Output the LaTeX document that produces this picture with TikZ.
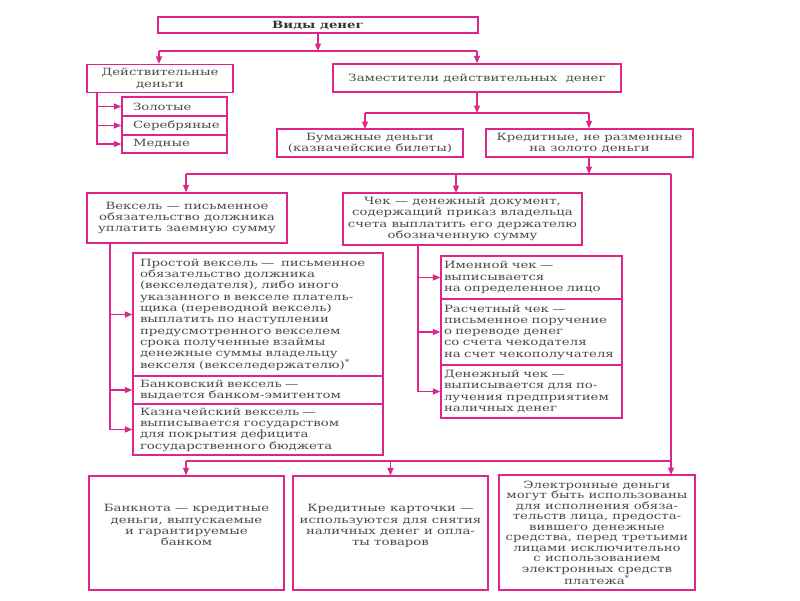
\documentclass[tikz,border=0pt]{standalone}
\usepackage{fontspec}
\setmainfont{DejaVu Serif}[FakeStretch=1.33]
\usetikzlibrary{arrows.meta}
\definecolor{mag}{RGB}{220,38,140}
\definecolor{txt}{RGB}{75,75,75}
\tikzset{
  box/.style={draw=mag, line width=1.3pt, inner sep=0pt, rectangle, text=txt,
    font=\fontsize{10}{11.3}\selectfont},
  txtnode/.style={inner sep=0pt, text=txt, font=\fontsize{10}{11.3}\selectfont, align=center},
  lt/.style={align=left},
  ct/.style={align=center},
  ln/.style={draw=mag, line width=1.3pt},
  arr/.style={draw=mag, line width=1.3pt, -{Triangle[length=7.5pt,width=6pt]}},
}
\begin{document}
\begin{tikzpicture}[x=1pt,y=-1pt]
\useasboundingbox[fill=white] (0,0) rectangle (800,600);
% top
\node[box, ct, minimum width=320pt, minimum height=16pt, text depth=0pt, font=\fontsize{10}{11.3}\selectfont\bfseries, text=black!80] (title) at (318,25) {Виды денег};
\node[box, ct, minimum width=146pt, minimum height=28pt] (deist) at (160,78.5) {Действительные\\деньги};
\node[box, ct, minimum width=288pt, minimum height=28pt, text depth=0pt] (zam) at (477,78) {Заместители действительных\ \ денег};
\node[box, lt, text width=83pt, minimum width=105pt, minimum height=19pt] (gold) at (174.5,106.5) {Золотые};
\node[box, lt, text width=83pt, minimum width=105pt, minimum height=19pt] (silver) at (174.5,125.5) {Серебряные};
\node[box, lt, text width=83pt, minimum width=105pt, minimum height=18pt] (copper) at (174.5,144) {Медные};
\node[box, ct, minimum width=186pt, minimum height=28pt] (bum) at (370,143) {Бумажные деньги\\(казначейские билеты)};
\node[box, ct, minimum width=207pt, minimum height=28pt] (kred) at (589.5,143) {Кредитные, не разменные\\на золото деньги};
% middle
\node[box, ct, minimum width=200pt, minimum height=50pt] (veks) at (187,218) {Вексель — письменное\\обязательство должника\\уплатить заемную сумму};
\node[box, ct, minimum width=239pt, minimum height=52pt] (chek) at (462.5,219) {Чек — денежный документ,\\содержащий приказ владельца\\счета выплатить его держателю\\обозначенную сумму};
\node[box, lt, text width=236pt, minimum width=250pt, minimum height=123pt] (prost) at (258,314.5) {Простой вексель —\ \ письменное\\обязательство должника\\(векселедателя), либо иного\\указанного в векселе платель-\\щика (переводной вексель)\\выплатить по наступлении\\предусмотренного векселем\\срока полученные взаймы\\денежные суммы владельцу\\векселя (векселедержателю)\textsuperscript{*}};
\node[box, lt, text width=236pt, minimum width=250pt, minimum height=28pt] (bank) at (258,390) {Банковский вексель —\\выдается банком-эмитентом};
\node[box, lt, text width=236pt, minimum width=250pt, minimum height=51pt] (kazn) at (258,429.5) {Казначейский вексель —\\выписывается государством\\для покрытия дефицита\\государственного бюджета};
\node[box, lt, text width=175pt, minimum width=181pt, minimum height=43pt] (imen) at (531.5,277.5) {Именной чек —\\выписывается\\на определенное лицо};
\node[box, lt, text width=175pt, minimum width=181pt, minimum height=66pt] (rasch) at (531.5,332) {Расчетный чек —\\письменное поручение\\о переводе денег\\со счета чекодателя\\на счет чекополучателя};
\node[box, lt, text width=175pt, minimum width=181pt, minimum height=53pt] (denezh) at (531.5,391.5) {Денежный чек —\\выписывается для по-\\лучения предприятием\\наличных денег};
% bottom
\node[box, minimum width=195pt, minimum height=114pt] (bnota) at (186.5,533) {};
\node[txtnode, anchor=north] (bnotat) at ([yshift=-29pt]bnota.north) {Банкнота — кредитные\\деньги, выпускаемые\\и гарантируемые\\банком};
\node[box, minimum width=195pt, minimum height=114pt] (kart) at (390.5,533) {};
\node[txtnode, anchor=north] (kartt) at ([yshift=-29pt]kart.north) {Кредитные карточки —\\используются для снятия\\наличных денег и опла-\\ты товаров};
\node[box, ct, minimum width=196pt, minimum height=115pt, font=\fontsize{10}{10.5}\selectfont] (elek) at (597,532.5) {Электронные деньги\\могут быть использованы\\для исполнения обяза-\\тельств лица, предоста-\\вившего денежные\\средства, перед третьими\\лицами исключительно\\с использованием\\электронных средств\\платежа\textsuperscript{*}};
% junction coordinates
\coordinate (j1) at (318,51);
\coordinate (j1l) at (159,51);
\coordinate (j1r) at (477,51);
\coordinate (dv) at (97,92);
\coordinate (j2) at (477,113);
\coordinate (j2l) at (365,113);
\coordinate (j2r) at (589,113);
\coordinate (bumin) at (365,129);
\coordinate (j3) at (589,174);
\coordinate (j3l) at (186,174);
\coordinate (j3r) at (671,174);
\coordinate (chekin) at (456,193);
\coordinate (vv) at (110,243);
\coordinate (cv) at (418,245);
\coordinate (elin) at (671,475);
\coordinate (h4l) at (186,461);
\coordinate (h4r) at (671,461);
% connectors
\draw[arr] (title.south -| j1) -- (j1);
\draw[ln] (j1l) -- (j1r);
\draw[arr] (j1l) -- (deist.north -| j1l);
\draw[arr] (j1r) -- (zam.north -| j1r);
\draw[arr] (dv) |- (gold.west);
\draw[arr] (dv) |- (silver.west);
\draw[arr] (dv) |- (copper.west);
\draw[arr] (zam.south -| j2) -- (j2);
\draw[ln] (j2l) -- (j2r);
\draw[arr] (j2l) -- (bumin);
\draw[arr] (j2r) -- (kred.north -| j2r);
\draw[arr] (kred.south -| j3) -- (j3);
\draw[ln] (j3l) -- (j3r);
\draw[arr] (j3l) -- (veks.north -| j3l);
\draw[arr] (chekin |- j3) -- (chekin);
\draw[arr] (vv) |- (prost.west);
\draw[arr] (vv) |- (bank.west);
\draw[arr] (vv) |- (kazn.west);
\draw[arr] (cv) |- (imen.west);
\draw[arr] (cv) |- (rasch.west);
\draw[arr] (cv) |- (denezh.west);
\draw[arr] (j3r) -- (elin);
\draw[ln] (h4r) -- (h4l);
\draw[arr] (h4l) -- (bnota.north -| h4l);
\draw[arr] (kart.north |- h4l) -- (kart.north);
\end{tikzpicture}
\end{document}
